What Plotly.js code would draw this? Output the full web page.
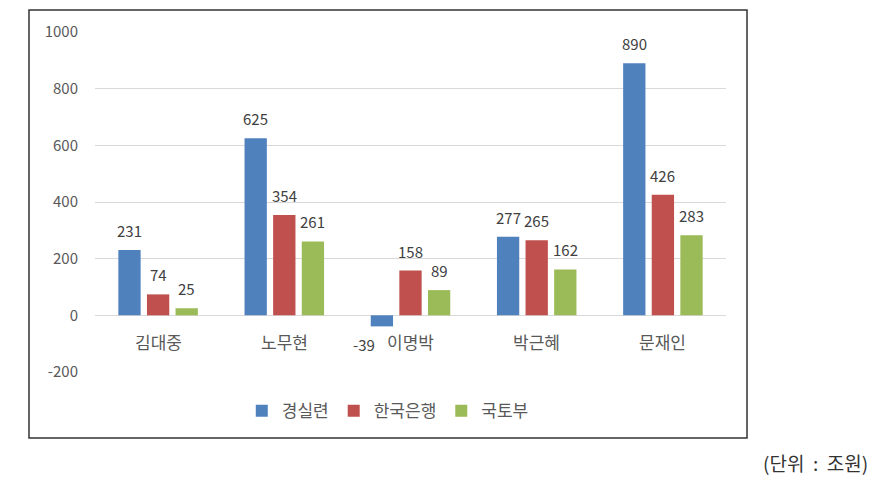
<!DOCTYPE html>
<html>
<head>
<meta charset="utf-8">
<script src="https://cdn.plot.ly/plotly-3.0.1.min.js"></script>
<style>
html,body{margin:0;padding:0;background:#fff;}
#chart{width:884px;height:494px;}
</style>
</head>
<body>
<div id="chart"></div>
<script>
const categories = ['김대중', '노무현', '이명박', '박근혜', '문재인'];
const seriesNames = ['경실련', '한국은행', '국토부'];
const gyeongsilryeon = [231, 625, -39, 277, 890];
const bankOfKorea = [74, 354, 158, 265, 426];
const molit = [25, 261, 89, 162, 283];
const yTicks = [-200, 0, 200, 400, 600, 800, 1000];
const unitNote = '(단위 : 조원)';

const colors = ['#4F81BD', '#C0504D', '#9BBB59'];
const FONT = '"Malgun Gothic", "Noto Sans CJK KR", sans-serif';
const values = [gyeongsilryeon, bankOfKorea, molit];

const W = 884, H = 494;
const margin = {l: 95, r: 158, t: 32, b: 122};
const bargap = 0.32;
const plotW = W - margin.l - margin.r;
const slot = plotW / categories.length * (1 - bargap) / values.length;

const traces = values.map((v, i) => ({
  type: 'bar',
  name: seriesNames[i],
  x: categories,
  y: v,
  marker: {color: colors[i]},
  hoverinfo: 'skip'
}));

// data labels, anchored at each bar's value through the axes
const labelAnnotations = [];
values.forEach((v, i) => {
  v.forEach((val, j) => {
    const off = (i - (values.length - 1) / 2) * slot;
    const neg = val < 0;
    labelAnnotations.push({
      x: categories[j], y: val, xref: 'x', yref: 'y',
      text: String(val), showarrow: false,
      xanchor: neg ? 'right' : 'center',
      yanchor: neg ? 'top' : 'bottom',
      xshift: neg ? off - 5 : off,
      yshift: neg ? -6 : 7,
      font: {family: FONT, size: 15, color: '#404040'}
    });
  });
});

const catAnnotations = categories.map(c => ({
  x: c, y: 0, xref: 'x', yref: 'y',
  text: c, showarrow: false,
  yanchor: 'top', yshift: -12,
  font: {family: FONT, size: 17, color: '#595959'}
}));

const layout = {
  width: W, height: H,
  margin: margin,
  paper_bgcolor: '#fff', plot_bgcolor: '#fff',
  font: {family: FONT, color: '#595959'},
  barmode: 'group',
  bargap: bargap,
  bargroupgap: 0.22,
  showlegend: true,
  legend: {
    orientation: 'h', x: 0.464, xanchor: 'center', y: -0.115, yanchor: 'middle',
    font: {family: FONT, size: 17, color: '#595959'},
    itemwidth: 30, traceorder: 'normal'
  },
  xaxis: {
    type: 'category',
    showticklabels: false,
    showgrid: false, zeroline: false, showline: false, ticks: ''
  },
  yaxis: {
    range: [-200, 1000],
    tickvals: yTicks,
    ticktext: yTicks.map(String),
    showgrid: true, gridcolor: '#D9D9D9', gridwidth: 1,
    zeroline: true, zerolinecolor: '#D9D9D9', zerolinewidth: 1,
    showline: false, ticks: '',
    ticklabelstandoff: 16,
    tickfont: {family: FONT, size: 15, color: '#595959'}
  },
  shapes: [{
    type: 'rect', xref: 'paper', yref: 'paper',
    x0: -0.1046, x1: 1.0333, y0: -0.194, y1: 1.0647,
    line: {color: '#333333', width: 1.5}, fillcolor: 'rgba(0,0,0,0)'
  }],
  annotations: labelAnnotations.concat(catAnnotations, [{
    xref: 'paper', yref: 'paper', x: 1.228, y: -0.266,
    xanchor: 'right', yanchor: 'middle', showarrow: false,
    text: unitNote.replace(' : ', '&nbsp;&nbsp;:&nbsp;&nbsp;'),
    font: {family: FONT, size: 19, color: '#333333'}
  }])
};

Plotly.newPlot('chart', traces, layout, {displayModeBar: false, staticPlot: true});
</script>
</body>
</html>
